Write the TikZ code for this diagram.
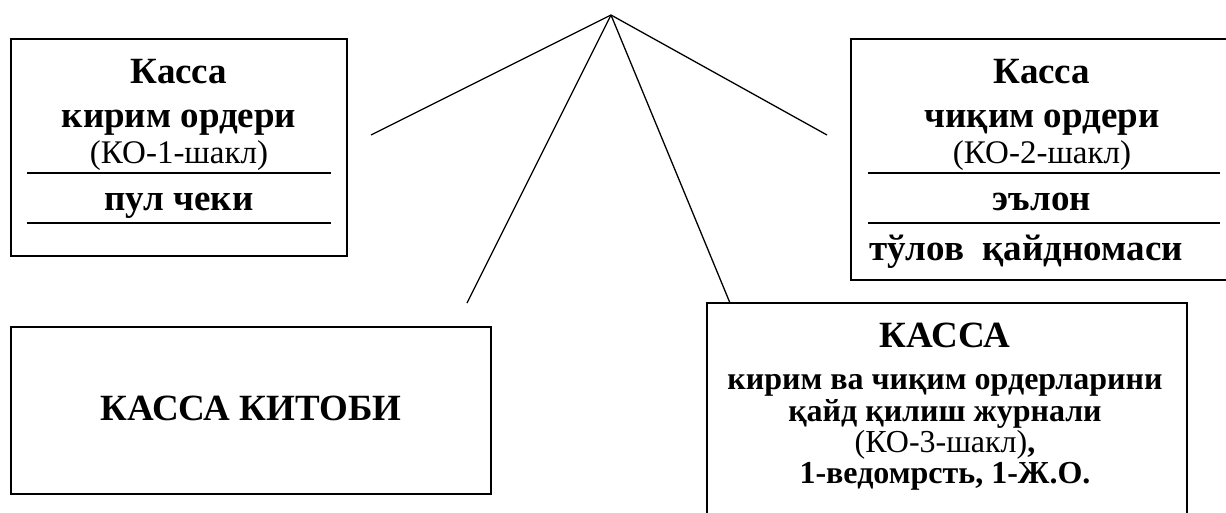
\documentclass[tikz,border=0pt]{standalone}
\usepackage{fontspec}
\setmainfont{Liberation Serif}
\begin{document}
\begin{tikzpicture}[x=1pt,y=-1pt,
  frame/.style={draw, line width=1.7pt, rectangle, inner sep=0pt},
  sep/.style={line width=1.7pt},
  conn/.style={line width=1.3pt},
  big/.style={font=\fontsize{37}{42}\selectfont\bfseries, anchor=base, inner sep=0pt},
  mid/.style={font=\fontsize{32}{36}\selectfont\bfseries, anchor=base, inner sep=0pt},
  reg/.style={font=\fontsize{33}{38}\selectfont, anchor=base, inner sep=0pt}]
\useasboundingbox (0,0) rectangle (1226,512);
\clip (0,0) rectangle (1226,512);
% boxes
\node[frame, minimum width=336pt, minimum height=217pt] (kirim) at (179,147.5) {};
\node[frame, minimum width=389pt, minimum height=241pt] (chiqim) at (1045.5,159.5) {};
\node[frame, minimum width=480pt, minimum height=167pt] (kitob) at (251,410.5) {};
\node[frame, minimum width=480pt, minimum height=237pt] (jurnal) at (947,421.5) {};
% left box texts
\node[big] (k1) at (179,83) {Касса};
\node[big] (k2) at (179,127) {кирим ордери};
\node[reg] (k3) at (179,163) {(КО-1-шакл)};
\node[big] (k4) at (179,210) {пул чеки};
\draw[sep] (27,173) -- (331,173);
\draw[sep] (27,223) -- (331,223);
% right box texts
\node[big] (c1) at (1042,83) {Касса};
\node[big] (c2) at (1042,127) {чиқим ордери};
\node[reg] (c3) at (1042,163) {(КО-2-шакл)};
\node[big] (c4) at (1042,210) {эълон};
\node[big] (c5) at (1026,260) {тўлов\ \ қайдномаси};
\draw[sep] (868,173) -- (1220,173);
\draw[sep] (868,223) -- (1220,223);
% bottom left
\node[big] (kt) at (251,420) {КАССА КИТОБИ};
% bottom right
\node[big] (j1) at (945,347) {КАССА};
\node[mid] (j2) at (945,389) {кирим ва чиқим ордерларини};
\node[mid] (j3) at (945,421) {қайд қилиш журнали};
\node[reg, font=\fontsize{32}{36}\selectfont] (j4) at (945,452) {(КО-3-шакл)\textbf{,}};
\node[mid] (j5) at (945,483) {1-ведомрсть, 1-Ж.О.};
% connectors
\coordinate (apex) at (611,15);
\coordinate (eL) at (371,135);
\coordinate (eR) at (827,135);
\coordinate (eBL) at (467,303);
\coordinate (eBR) at (730,303);
\draw[conn] (apex) -- (eL);
\draw[conn] (apex) -- (eR);
\draw[conn] (apex) -- (eBL);
\draw[conn] (apex) -- (eBR);
\end{tikzpicture}
\end{document}
